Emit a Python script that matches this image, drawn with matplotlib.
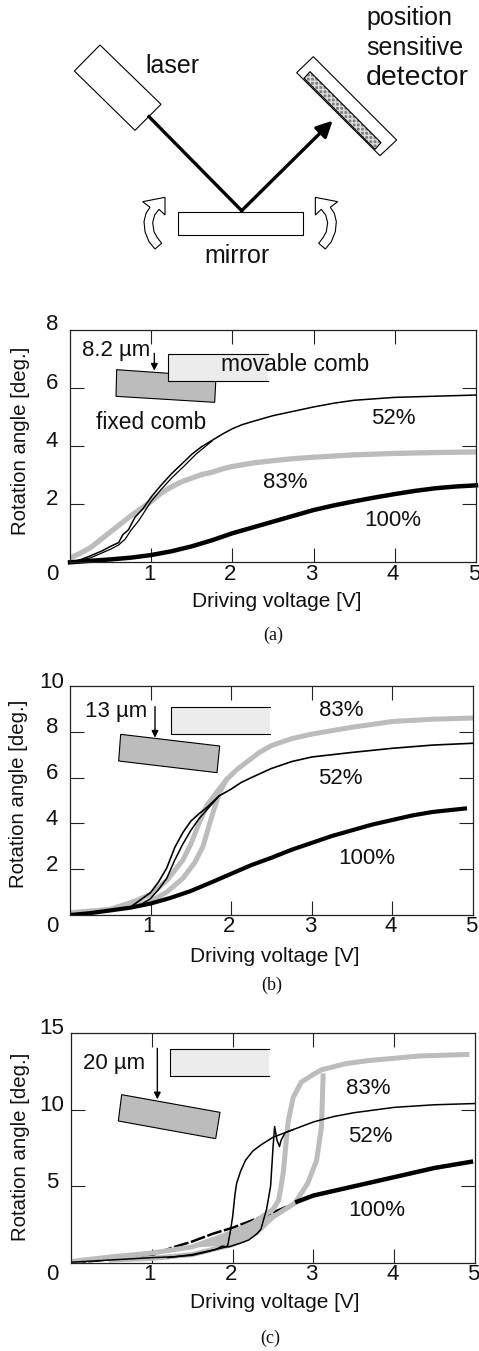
import matplotlib
matplotlib.use('Agg')
import matplotlib.pyplot as plt
from matplotlib.patches import Polygon

plt.rcParams['font.family'] = ['Liberation Sans', 'DejaVu Sans']

W, H = 479, 1351
GRAY = '#bcbcbc'

# panel (a)
a52_up_x = [0, .12, .25, .4, .5, .6, .65, .72, .8, .9, 1, 1.12, 1.25, 1.4, 1.5, 1.62, 1.75, 1.88, 2, 2.12, 2.25, 2.5, 2.75, 3, 3.25, 3.5, 4, 4.5, 5]
a52_up_y = [0, .08, .22, .4, .55, .68, .95, 1.12, 1.55, 1.85, 2.25, 2.65, 3.05, 3.45, 3.72, 3.98, 4.2, 4.42, 4.6, 4.74, 4.85, 5.05, 5.2, 5.35, 5.48, 5.58, 5.68, 5.72, 5.76]
a52_dn_x = [0, .25, .5, .6, .68, .75, .85, 1, 1.12, 1.25, 1.4, 1.55, 1.75]
a52_dn_y = [0, .15, .45, .6, .8, 1.1, 1.45, 2.1, 2.5, 2.9, 3.3, 3.72, 4.18]
a83_x = [0, .12, .25, .5, .75, 1, 1.12, 1.25, 1.38, 1.5, 1.62, 1.75, 1.88, 2, 2.25, 2.5, 2.75, 3, 3.5, 4, 4.5, 5]
a83_y = [.15, .3, .5, 1.05, 1.6, 2.1, 2.38, 2.6, 2.78, 2.9, 3.02, 3.1, 3.22, 3.3, 3.42, 3.5, 3.57, 3.62, 3.7, 3.75, 3.78, 3.8]
a100_x = [0, .25, .5, .75, 1, 1.25, 1.5, 1.75, 2, 2.25, 2.5, 2.75, 3, 3.25, 3.5, 3.75, 4, 4.25, 4.5, 4.75, 5]
a100_y = [0, .05, .1, .16, .25, .38, .55, .76, 1, 1.2, 1.4, 1.6, 1.8, 1.96, 2.1, 2.23, 2.35, 2.46, 2.55, 2.61, 2.65]

# panel (b)
b52_up_x = [0, .5, .75, .85, 1, 1.1, 1.2, 1.3, 1.4, 1.5, 1.6, 1.7, 1.85, 2, 2.12, 2.25, 2.5, 2.75, 3, 3.5, 4, 4.5, 5]
b52_up_y = [0, .2, .35, .6, .98, 1.45, 2.05, 2.95, 3.6, 4.1, 4.42, 4.7, 5.2, 5.5, 5.78, 6.0, 6.4, 6.7, 6.9, 7.1, 7.28, 7.42, 7.5]
b52_dn_x = [.75, .85, 1, 1.1, 1.2, 1.3, 1.4, 1.5, 1.6, 1.75, 1.85]
b52_dn_y = [.35, .38, .72, 1.12, 1.6, 2.4, 3.1, 3.7, 4.2, 4.8, 5.2]
b83_up_x = [0, .5, .8, 1, 1.2, 1.4, 1.5, 1.6, 1.7, 1.85, 1.94, 2.07, 2.2, 2.35, 2.5, 2.75, 3, 3.5, 4, 4.5, 5]
b83_up_y = [.1, .25, .6, .9, 1.5, 2.4, 3.1, 4, 4.8, 5.5, 5.9, 6.35, 6.7, 7.1, 7.4, 7.7, 7.9, 8.2, 8.45, 8.55, 8.6]
b83_dn_x = [.8, 1, 1.2, 1.4, 1.55, 1.65, 1.75, 1.85, 1.94]
b83_dn_y = [.4, .6, 1, 1.6, 2.3, 3, 4.2, 5.3, 5.9]
b100_x = [0, .25, .5, .75, 1, 1.25, 1.5, 1.75, 2, 2.25, 2.5, 2.75, 3, 3.25, 3.5, 3.75, 4, 4.25, 4.5, 4.9]
b100_y = [0, .08, .2, .32, .5, .75, 1.05, 1.42, 1.8, 2.18, 2.5, 2.85, 3.15, 3.45, 3.7, 3.95, 4.15, 4.35, 4.5, 4.65]

# panel (c)
c52_up_x = [0, 1, 1.25, 1.5, 1.7, 1.8, 1.87, 1.95, 2.1, 2.2, 2.3, 2.35, 2.42, 2.47, 2.5, 2.52, 2.55, 2.58, 2.6, 2.65, 2.75, 3, 3.25, 3.5, 4, 4.5, 5]
c52_up_y = [.05, .35, .4, .5, .75, .9, 1.1, 1.05, 1.3, 1.5, 1.9, 2.2, 3.5, 5, 7.5, 8.9, 8, 7.6, 8, 8.5, 8.7, 9.2, 9.55, 9.8, 10.15, 10.32, 10.4]
c52_dn_x = [1.2, 1.5, 1.8, 1.92, 1.94, 1.97, 2, 2.03, 2.05, 2.1, 2.16, 2.25, 2.35, 2.5, 2.65, 2.75]
c52_dn_y = [.35, .55, .9, 1.05, 1.15, 2, 3, 4.5, 5.2, 6, 6.7, 7.3, 7.7, 8.2, 8.5, 8.7]
c83_up_x = [0, .5, 1, 1.5, 2, 2.25, 2.5, 2.57, 2.6, 2.63, 2.66, 2.69, 2.75, 2.85, 3, 3.1, 3.4, 3.68, 4, 4.3, 4.6, 4.9]
c83_up_y = [.1, .4, .65, 1.05, 2, 2.6, 3.5, 4.1, 5, 6, 7.8, 9.3, 10.8, 11.8, 12.3, 12.6, 13, 13.2, 13.35, 13.5, 13.55, 13.6]
c83_dn_x = [.5, 1, 1.5, 2, 2.3, 2.5, 2.77, 2.93, 3.04, 3.1, 3.11, 3.12]
c83_dn_y = [.2, .3, .55, 1.2, 2, 3, 3.9, 5.2, 6.7, 8.9, 10.5, 12.2]
c100_low_x = [0, 1, 1.25, 1.5, 1.75, 2, 2.25, 2.5, 2.75]
c100_low_y = [0, .5, 1, 1.4, 1.9, 2.3, 2.8, 3.3, 3.85]
c100_x = [2.8, 3, 3.25, 3.5, 4, 4.5, 4.95]
c100_y = [4, 4.4, 4.7, 5, 5.6, 6.2, 6.6]

fig = plt.figure(figsize=(W / 100, H / 100), dpi=100)


def make_axes(left, right, top, bottom, ymax, yticks, lab_dy, xlab_y):
    ax = fig.add_axes([left / W, 1 - bottom / H, (right - left) / W, (bottom - top) / H])
    ax.set_xlim(0, 5)
    ax.set_ylim(0, ymax)
    ax.set_xticks([1, 2, 3, 4])
    ax.set_yticks(yticks[1:-1])
    ax.tick_params(direction='in', length=10, width=0.8, top=True, right=True,
                   labelbottom=False, labelleft=False, color='#222222')
    for s in ax.spines.values():
        s.set_linewidth(0.9)
        s.set_color('#222222')
    for v in yticks[1:]:
        ax.annotate(str(v), xy=(0, v), xycoords=('axes fraction', 'data'), xytext=(52 - left, lab_dy),
                    textcoords='offset pixels', ha='center', va='center', fontsize=16, color='#111111')
    ax.annotate('0', xy=(0, 0), xycoords='axes fraction', xytext=(52 - left, bottom - xlab_y),
                textcoords='offset pixels', ha='center', va='center', fontsize=16, color='#111111')
    for v in [1, 2, 3, 4, 5]:
        ax.annotate(str(v), xy=(v, 0), xycoords=('data', 'axes fraction'), xytext=(-2, bottom - xlab_y),
                    textcoords='offset pixels', ha='center', va='center', fontsize=16, color='#111111')
    return ax


ax_a = make_axes(70, 476, 330, 562.3, 8, [0, 2, 4, 6, 8], 5, 575)
ax_a.plot(a83_x, a83_y, color=GRAY, lw=3.8)
ax_a.plot(a52_up_x, a52_up_y, color='black', lw=1.1)
ax_a.plot(a52_dn_x, a52_dn_y, color='black', lw=0.9)
ax_a.plot(a100_x, a100_y, color='black', lw=3.2, clip_on=False)

ax_b = make_axes(70, 473, 686, 915, 10, [0, 2, 4, 6, 8, 10], 4, 926)
ax_b.plot(b83_up_x, b83_up_y, color=GRAY, lw=3.6)
ax_b.plot(b83_dn_x, b83_dn_y, color=GRAY, lw=3.6)
ax_b.plot(b52_up_x, b52_up_y, color='black', lw=1.2)
ax_b.plot(b52_dn_x, b52_dn_y, color='black', lw=1.1)
ax_b.plot(b100_x, b100_y, color='black', lw=3)

ax_c = make_axes(71, 475, 1033, 1263, 15, [0, 5, 10, 15], 4, 1275)
ax_c.plot(c100_low_x, c100_low_y, color='black', lw=1.8, ls=(0, (6, 1)))
ax_c.fill(c83_up_x[3:7] + c83_dn_x[5:2:-1], c83_up_y[3:7] + c83_dn_y[5:2:-1], color=GRAY)
ax_c.plot(c83_up_x, c83_up_y, color=GRAY, lw=3.6)
ax_c.plot(c83_dn_x, c83_dn_y, color=GRAY, lw=3.6)
ax_c.plot(c100_x, c100_y, color='black', lw=3.2)
ax_c.plot(c52_up_x, c52_up_y, color='black', lw=1.1)
ax_c.plot(c52_dn_x, c52_dn_y, color='black', lw=1.1)

# overlay in image pixels for the drawings and the text
ov = fig.add_axes([0, 0, 1, 1], zorder=10)
ov.set_xlim(0, W)
ov.set_ylim(H, 0)
ov.axis('off')
ov.patch.set_alpha(0)


def z(pts, oy=0):
    return [(x / 3, y / 3 + oy) for x, y in pts]


def label(x, y, s, size, oy=0, **kw):
    ov.text(x / 3, y / 3 + oy, s, fontsize=size, ha='center', va='center', color='#111111', **kw)


def arrow(p0, p1, oy=0, lw=1.0, ms=10):
    ov.annotate('', xy=z([p1], oy)[0], xytext=z([p0], oy)[0],
                arrowprops=dict(arrowstyle='-|>', color='black', lw=lw, mutation_scale=ms,
                                shrinkA=0, shrinkB=0))


def comb(mov, fixed, oy):
    ov.add_patch(Polygon(z(fixed, oy), closed=True, fc=GRAY, ec='black', lw=0.8, zorder=2))
    x0, y0, x1, y1 = mov
    ov.fill(*zip(*z([(x0, y0), (x1, y0), (x1, y1), (x0, y1)], oy)), color='#ececec', lw=0, zorder=3)
    ov.plot(*zip(*z([(x1, y0), (x0, y0), (x0, y1), (x1, y1)], oy)), color='black', lw=0.8, zorder=4)


# setup sketch
ov.add_patch(Polygon(z([(300, 135), (483, 313), (405, 391), (223, 213)]), closed=True, fc='white', ec='black', lw=0.8))
ov.add_patch(Polygon(z([(940, 170), (1190, 420), (1140, 467), (890, 218)]), closed=True, fc='white', ec='black', lw=0.8))
ov.add_patch(Polygon(z([(930, 215), (1143, 428), (1125, 448), (912, 235)]), closed=True, fc='#808080',
                     ec='#dddddd', lw=0, hatch='++++'))
ov.add_patch(Polygon(z([(930, 215), (1143, 428), (1125, 448), (912, 235)]), closed=True, fc='none', ec='black', lw=0.8))
ov.add_patch(Polygon(z([(535, 635), (910, 635), (910, 705), (535, 705)]), closed=True, fc='white', ec='black', lw=0.8))
ov.plot(*zip(*z([(447, 350), (725, 632)])), color='black', lw=2.4)
arrow((725, 632), (998, 362), lw=2.4, ms=24)
left_arrow = [(428, 605), (495, 592), (495, 645), (477, 628), (464, 645), (458, 668), (462, 695), (472, 713), (485, 730),
              (465, 747), (447, 725), (435, 695), (432, 665), (438, 640), (450, 622)]
ov.add_patch(Polygon(z(left_arrow), closed=True, fc='white', ec='black', lw=0.8))
ov.add_patch(Polygon(z([(1441 - x, y) for x, y in left_arrow]), closed=True, fc='white', ec='black', lw=0.8))
label(518, 197, 'laser', 18)
label(1228, 55, 'position', 18)
label(1245, 143, 'sensitive', 18)
label(1252, 235, 'detector', 20.5)
label(712, 768, 'mirror', 18)

# insets
comb((503, 163, 803, 243), [(350, 209), (648, 230), (644, 307), (348, 289)], 300)
arrow((463, 160), (463, 212), 300)
label(347, 152, '8.2 µm', 16, 300)
label(885, 193, 'movable comb', 16.4, 300)
label(452, 367, 'fixed comb', 16.4, 300)
label(1181, 355, '52%', 16, 300)
label(857, 548, '83%', 16, 300)
label(1177, 662, '100%', 16, 300)
label(830, 905, 'Driving voltage [V]', 15, 300)
label(62, 422, 'Rotation angle [deg.]', 14.7, 300, rotation=90)
label(820, 1005, '(a)', 13, 300, family='Liberation Serif')

comb((512, 171, 810, 252), [(362, 253), (659, 288), (651, 368), (356, 333)], 650)
arrow((465, 170), (465, 263), 650)
label(347, 185, '13 µm', 16, 650)
label(1023, 183, '83%', 16, 650)
label(1021, 385, '52%', 16, 650)
label(1100, 627, '100%', 16, 650)
label(825, 918, 'Driving voltage [V]', 15, 650)
label(55, 430, 'Rotation angle [deg.]', 14.7, 650, rotation=90)
label(815, 1005, '(b)', 13, 650, family='Liberation Serif')

comb((509, 118, 808, 199), [(365, 254), (660, 307), (647, 386), (355, 333)], 1010)
arrow((472, 115), (472, 268), 1010)
label(343, 162, '20 µm', 16, 1010)
label(1104, 235, '83%', 16, 1010)
label(1110, 378, '52%', 16, 1010)
label(1130, 600, '100%', 16, 1010)
label(823, 878, 'Driving voltage [V]', 15, 1010)
label(62, 410, 'Rotation angle [deg.]', 14.7, 1010, rotation=90)
label(810, 985, '(c)', 13, 1010, family='Liberation Serif')

fig.savefig('out.png', dpi=100)
